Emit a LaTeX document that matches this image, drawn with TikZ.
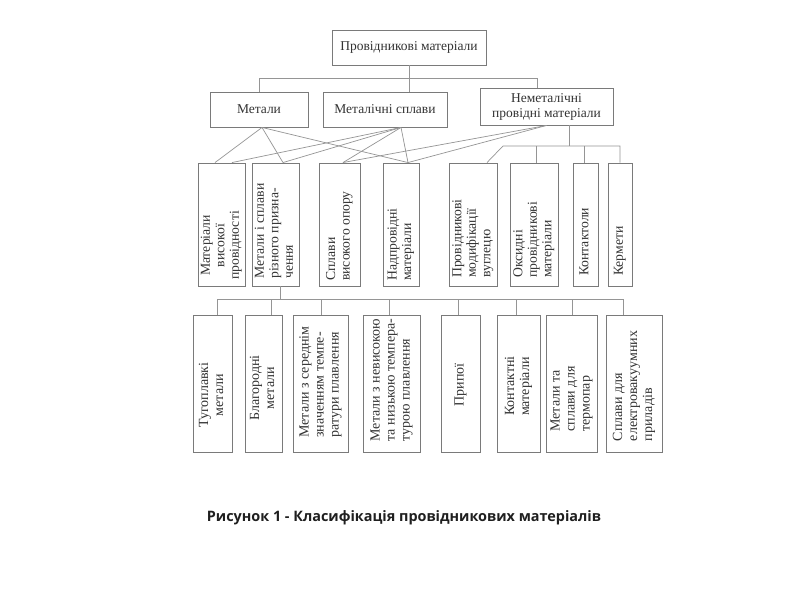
\documentclass[tikz,border=0pt]{standalone}
\usepackage{fontspec}
\setmainfont{Liberation Serif}
\newfontfamily\capfont{Open Sans}
\usepackage{graphicx}
\definecolor{boxc}{HTML}{7A7A7A}
\definecolor{linec}{HTML}{959595}
\definecolor{txtc}{HTML}{333333}
\newcommand\vtext[2]{\rotatebox{90}{\begin{tabular}{@{}#1@{}}#2\end{tabular}}}
\begin{document}
\begin{tikzpicture}[x=1pt,y=-1pt,
  box/.style={draw=boxc, line width=0.9pt, inner sep=0pt, rectangle},
  conn/.style={draw=linec, line width=0.7pt},
  htxt/.style={text=txtc, font=\fontsize{13.5pt}{15pt}\selectfont, align=center},
  vtwo/.style={text=txtc, font=\fontsize{13.7pt}{14.5pt}\selectfont, inner sep=0pt},
  vthree/.style={text=txtc, font=\fontsize{14pt}{15pt}\selectfont, inner sep=0pt}]
\useasboundingbox[fill=white] (0,0) rectangle (800,600);

% level 0 and 1
\node[box, htxt, minimum width=154pt, minimum height=35pt] (top) at (409,47.5) {Провідникові матеріали};
\node[box, htxt, minimum width=98pt, minimum height=35pt] (m) at (259,109.5) {Метали};
\node[box, htxt, minimum width=124pt, minimum height=35pt] (s) at (385,109.5) {Металічні сплави};
\node[box, htxt, minimum width=133pt, minimum height=37pt] (n) at (546.5,106.5) {Неметалічні\\провідні матеріали};

% level 2 boxes
\node[box, minimum width=47pt, minimum height=123pt] (b1) at (221.5,224.5) {};
\node[box, minimum width=47pt, minimum height=123pt] (b2) at (275.5,224.5) {};
\node[box, minimum width=41pt, minimum height=123pt] (b3) at (339.5,224.5) {};
\node[box, minimum width=36pt, minimum height=123pt] (b4) at (401,224.5) {};
\node[box, minimum width=48pt, minimum height=123pt] (b5) at (473,224.5) {};
\node[box, minimum width=48pt, minimum height=123pt] (b6) at (534,224.5) {};
\node[box, minimum width=25pt, minimum height=123pt] (b7) at (585.5,224.5) {};
\node[box, minimum width=24pt, minimum height=123pt] (b8) at (620,224.5) {};

\node[vtwo, anchor=south] (t1) at (221.5,280) {\vtext{c}{Матеріали\\високої\\провідності}};
\node[vtwo, anchor=south] (t2) at (275.5,279) {\vtext{l}{Метали і сплави\\різного призна-\\чення}};
\node[vtwo, anchor=south] (t3) at (339.5,281) {\vtext{l}{Сплави\\високого опору}};
\node[vtwo, anchor=south] (t4) at (401,281) {\vtext{l}{Надпровідні\\матеріали}};
\node[vtwo, anchor=south] (t5) at (473,278) {\vtext{l}{Провідникові\\модифікації\\вуглецю}};
\node[vtwo, anchor=south] (t6) at (534,278) {\vtext{l}{Оксидні\\провідникові\\матеріали}};
\node[vtwo, anchor=south] (t7) at (585.5,276) {\vtext{l}{Контактоли}};
\node[vtwo, anchor=south] (t8) at (620,276) {\vtext{l}{Кермети}};

% level 3 boxes
\node[box, minimum width=39pt, minimum height=137pt] (A) at (212.5,383.5) {};
\node[box, minimum width=37pt, minimum height=137pt] (B) at (263.5,383.5) {};
\node[box, minimum width=55pt, minimum height=137pt] (C) at (320.5,383.5) {};
\node[box, minimum width=57pt, minimum height=137pt] (D) at (391.5,383.5) {};
\node[box, minimum width=39pt, minimum height=137pt] (E) at (460.5,383.5) {};
\node[box, minimum width=43pt, minimum height=137pt] (F) at (518.5,383.5) {};
\node[box, minimum width=51pt, minimum height=137pt] (G) at (571.5,383.5) {};
\node[box, minimum width=56pt, minimum height=137pt] (H) at (634,383.5) {};

\node[vthree] (tA) at (212.5,395) {\vtext{c}{Тугоплавкі\\метали}};
\node[vthree] (tB) at (263.5,388) {\vtext{c}{Благородні\\метали}};
\node[vthree] (tC) at (320.5,382) {\vtext{l}{Метали з середнім\\значенням темпе-\\ратури плавлення}};
\node[vthree] (tD) at (391.5,380) {\vtext{l}{Метали з невисокою\\та низькою темпера-\\турою плавлення}};
\node[vthree] (tE) at (460.5,385) {\vtext{c}{Припої}};
\node[vthree] (tF) at (518.5,386) {\vtext{l}{Контактні\\матеріали}};
\node[vthree] (tG) at (571.5,399) {\vtext{l}{Метали та\\сплави для\\термопар}};
\node[vthree] (tH) at (634,386) {\vtext{l}{Сплави для\\електровакуумних\\приладів}};

% caption
\node[font=\capfont\fontsize{14.4pt}{17pt}\selectfont\bfseries, text=black!88] (cap) at (404,518) {Рисунок 1 - Класифікація провідникових матеріалів};

% tree 0 -> 1
\coordinate (busA) at (0,78);
\coordinate (nD) at ([xshift=-9.5pt]n.north);
\draw[conn] (top.south) -- (s.north -| top.south);
\draw[conn] (m.north) -- (m.north |- busA) -- (nD |- busA) -- (nD);

% crossing lines 1 -> 2
\coordinate (mo) at ([xshift=3pt]m.south);
\coordinate (so) at ([xshift=16pt]s.south);
\coordinate (no) at (n.south);
\coordinate (b1a) at ([xshift=-6.5pt]b1.north);
\coordinate (b1b) at ([xshift=10.5pt]b1.north);
\coordinate (b2t) at ([xshift=7.5pt]b2.north);
\coordinate (b3t) at ([xshift=3.5pt]b3.north);
\coordinate (b4t) at ([xshift=7pt]b4.north);
\draw[conn] (mo) -- (b1a);
\draw[conn] (mo) -- (b2t);
\draw[conn] (mo) -- (b4t);
\draw[conn] (so) -- (b1b);
\draw[conn] (so) -- (b2t);
\draw[conn] (so) -- (b3t);
\draw[conn] (so) -- (b4t);
\draw[conn] (no) -- (b3t);
\draw[conn] (no) -- (b4t);

% non-metal subtree
\coordinate (busB) at (0,146);
\coordinate (nst) at ([xshift=22.5pt]n.south);
\draw[conn] (nst) -- (nst |- busB);
\draw[conn] ([xshift=14pt]b5.north) -- ([xshift=30pt]b5.north |- busB) -- (b8.north |- busB) -- (b8.north);
\draw[conn] ([xshift=2pt]b6.north) -- ([xshift=2pt]b6.north |- busB);
\draw[conn] ([xshift=-1.5pt]b7.north) -- ([xshift=-1.5pt]b7.north |- busB);

% level 2 -> 3
\coordinate (busC) at (0,299);
\coordinate (b2s) at ([xshift=4.5pt]b2.south);
\draw[conn] (b2s) -- (b2s |- busC);
\draw[conn] ([xshift=4.5pt]A.north) -- ([xshift=4.5pt]A.north |- busC) -- ([xshift=-11pt]H.north |- busC) -- ([xshift=-11pt]H.north);
\draw[conn] ([xshift=7.5pt]B.north) -- ([xshift=7.5pt]B.north |- busC);
\draw[conn] ([xshift=0.5pt]C.north) -- ([xshift=0.5pt]C.north |- busC);
\draw[conn] ([xshift=-2.5pt]D.north) -- ([xshift=-2.5pt]D.north |- busC);
\draw[conn] ([xshift=-2.5pt]E.north) -- ([xshift=-2.5pt]E.north |- busC);
\draw[conn] ([xshift=-2.5pt]F.north) -- ([xshift=-2.5pt]F.north |- busC);
\draw[conn] ([xshift=0.5pt]G.north) -- ([xshift=0.5pt]G.north |- busC);
\end{tikzpicture}
\end{document}
